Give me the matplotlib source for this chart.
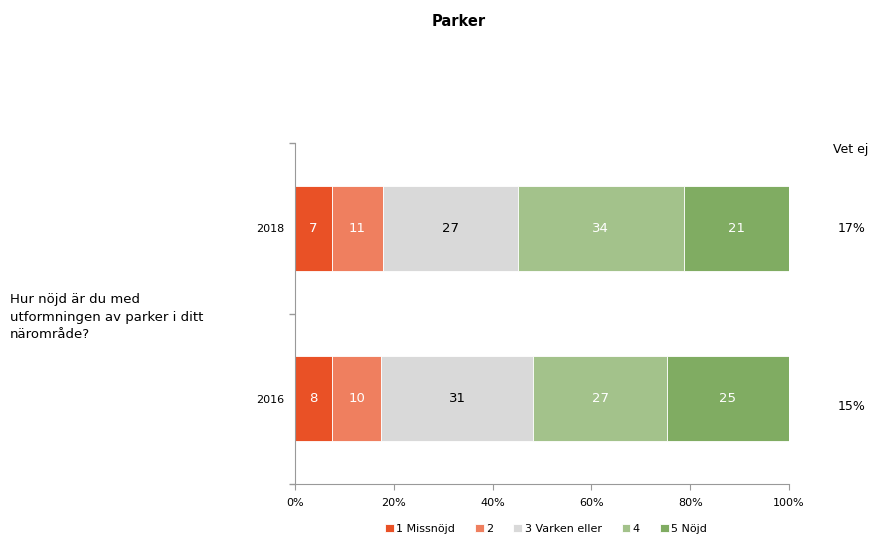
import matplotlib
matplotlib.use("Agg")
import matplotlib.pyplot as plt
import numpy as np
from matplotlib.ticker import FixedLocator, FuncFormatter

years = ["2018", "2016"]
categories = ["1 Missnöjd", "2", "3 Varken eller", "4", "5 Nöjd"]
values_2018 = [7.5, 10.3, 27.3, 33.6, 21.3]
values_2016 = [7.5, 9.9, 30.8, 27.1, 24.7]
labels_2018 = ["7", "11", "27", "34", "21"]
labels_2016 = ["8", "10", "31", "27", "25"]
vet_ej = ["17%", "15%"]
colors = ["#E95126", "#EF7F5F", "#D9D9D9", "#A3C28B", "#80AC62"]
text_colors = ["white", "white", "black", "white", "white"]
question = "Hur nöjd är du med\nutformningen av parker i ditt\nnärområde?"
title = "Parker"

plt.rcParams['font.family'] = ['DejaVu Sans']
fig = plt.figure(figsize=(8.73, 5.35), dpi=100)
ax = fig.add_axes([295/873, 1-484/535, 494/873, 341/535])

data = [values_2018, values_2016]
labels = [labels_2018, labels_2016]
ypos = [0.5, 1.5]
for yi, (vals, labs) in enumerate(zip(data, labels)):
    left = 0.0
    for ci, (v, lab) in enumerate(zip(vals, labs)):
        ax.barh(ypos[yi], v, left=left, height=0.5, color=colors[ci],
                edgecolor="white", linewidth=0.6,
                label=categories[ci] if yi == 0 else None)
        ax.text(left + v/2, ypos[yi], lab, ha="center", va="center",
                color=text_colors[ci], fontsize=9.5)
        left += v

ax.set_xlim(0, 100)
ax.set_ylim(2, 0)
ax.set_xticks(np.arange(0, 101, 20))
ax.xaxis.set_major_formatter(FuncFormatter(lambda x, p: f"{int(x)}%"))
ax.yaxis.set_major_locator(FixedLocator([0, 1, 2]))
ax.yaxis.set_major_formatter(FuncFormatter(lambda x, p: ""))
ax.yaxis.set_minor_locator(FixedLocator(ypos))
ax.set_yticklabels(years, minor=True)
ax.tick_params(axis="y", which="minor", length=0, labelsize=8, pad=8)
ax.tick_params(axis="y", which="major", length=4, color="#999999", width=1)
ax.tick_params(axis="x", length=4, color="#999999", labelsize=8, pad=6)
for s in ["top", "right"]:
    ax.spines[s].set_visible(False)
ax.spines["left"].set_color("#999999")
ax.spines["bottom"].set_color("#999999")

fig.text(459/873, 1-22/535, title, ha="center", va="center", fontsize=10.5, fontweight="bold")
fig.text(851/873, 1-150/535, "Vet ej", ha="center", va="center", fontsize=9)
fig.text(852/873, 1-228/535, vet_ej[0], ha="center", va="center", fontsize=9)
fig.text(852/873, 1-407/535, vet_ej[1], ha="center", va="center", fontsize=9)
fig.text(10/873, 1-317/535, question, ha="left", va="center", fontsize=9.5, linespacing=1.45)

fig.legend(loc="center", bbox_to_anchor=(546/873, 1-529/535), ncol=5, frameon=False,
           fontsize=8, handlelength=0.8, handleheight=0.8, handletextpad=0.2,
           columnspacing=1.8)

fig.savefig("out.png", dpi=100)
